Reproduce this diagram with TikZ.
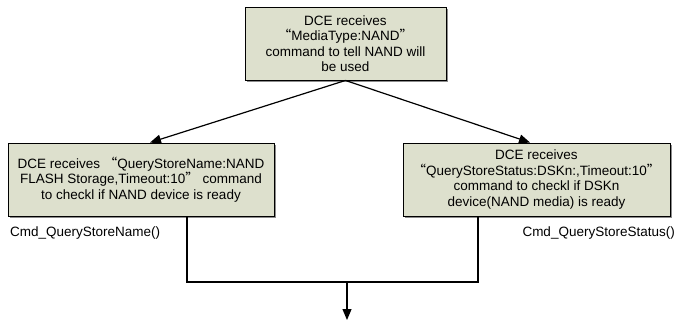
\documentclass[tikz,border=0pt]{standalone}
\usepackage{fontspec}
\setmainfont{Liberation Sans}
\newfontfamily\cjk{Noto Sans CJK SC}
\usetikzlibrary{arrows.meta,shadows}
\definecolor{boxfill}{RGB}{221,224,205}
\newcommand{\cjkopen}{{\cjk “}}
\newcommand{\cjkclose}{{\cjk ”}}
\tikzset{
  stepbox/.style={draw=black, line width=0.9pt, fill=boxfill, align=center,
    inner sep=0pt, minimum height=73pt,
    font=\fontsize{13.5}{15.5}\selectfont,
    drop shadow={shadow xshift=1.5pt, shadow yshift=-1.5pt, fill=black!45, opacity=1}},
  lbl/.style={font=\fontsize{13.5}{15.5}\selectfont, inner sep=0pt},
  link/.style={draw=black, line width=1.2pt},
  arr/.style={link, -{Triangle[length=11pt,width=9pt]}}
}
\begin{document}
\begin{tikzpicture}[x=1pt,y=-1pt]
\useasboundingbox (0,0) rectangle (677,324);

% command boxes
\node[stepbox, minimum width=201pt] (media) at (345.5,43.5)
  {DCE receives\\\cjkopen MediaType:NAND\cjkclose\\command to tell NAND will\\be used};
\node[stepbox, minimum width=266pt] (qname) at (141,179.5)
  {DCE receives \cjkopen QueryStoreName:NAND\\FLASH Storage,Timeout:10\cjkclose\ command\\to checkl if NAND device is ready};
\node[stepbox, minimum width=267pt] (qstatus) at (536.5,179.5)
  {DCE receives\\\cjkopen QueryStoreStatus:DSKn:,Timeout:10\cjkclose\\command to checkl if DSKn\\device(NAND media) is ready};

% function names
\node[lbl, anchor=west] (fname) at (10,233) {Cmd\_QueryStoreName()};
\node[lbl, anchor=east] (fstatus) at (675,233) {Cmd\_QueryStoreStatus()};

% branches from the media box
\draw[arr] (media.south) -- ([xshift=9pt]qname.north);
\draw[arr] (media.south) -- ([xshift=-6.5pt]qstatus.north);

% join of both checks
\coordinate (join) at (347,282);
\coordinate (next) at (347,320);
\draw[link] ([xshift=46pt]qname.south) |- (join) -| ([xshift=-58.5pt]qstatus.south);
\draw[arr] (join) -- (next);
\end{tikzpicture}
\end{document}
